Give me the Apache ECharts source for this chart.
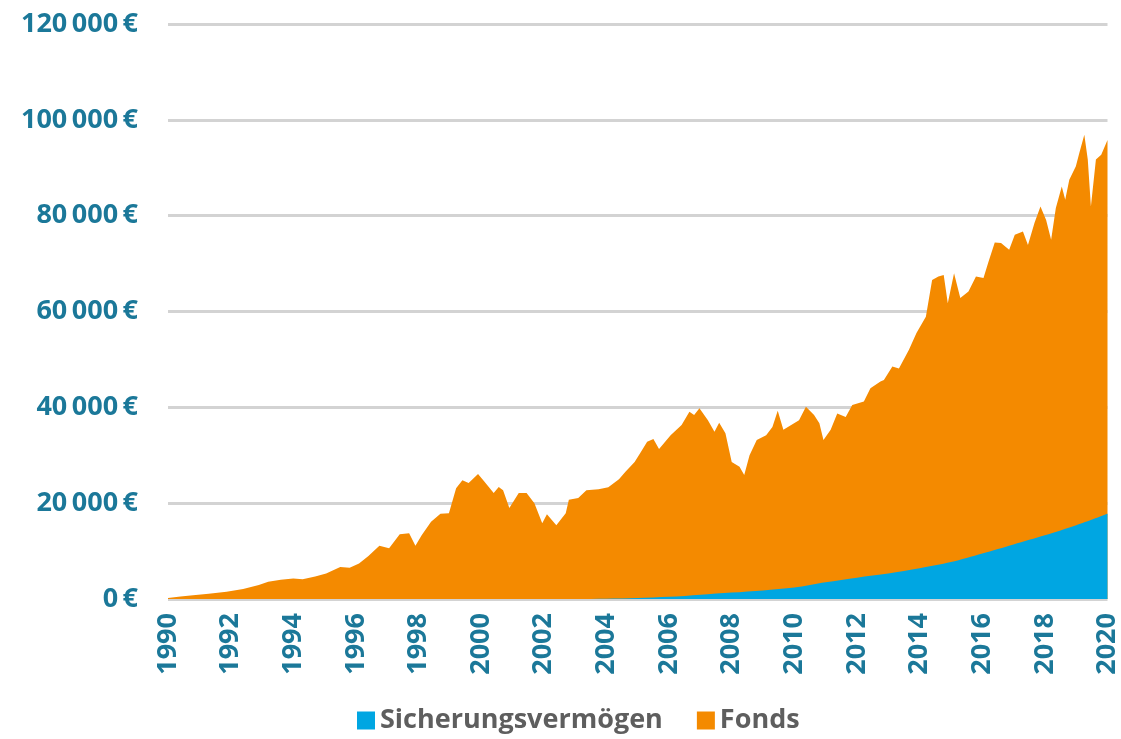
<!DOCTYPE html>
<html>
<head>
<meta charset="utf-8">
<script src="https://cdn.jsdelivr.net/npm/echarts@6/dist/echarts.min.js"></script>
<style>
  html, body { margin: 0; background: #fff; }
  #chart { width: 1121px; height: 739px; }
</style>
</head>
<body>
<div id="chart"></div>
<script>
// Gesamtwert (Oberkante der Fläche)
const totalYears = [
  1990.0, 1990.4, 1990.8, 1991.3, 1991.87, 1992.4, 1992.9, 1993.2, 1993.6, 1994.0,
  1994.3, 1994.7, 1995.05, 1995.5, 1995.8, 1996.1, 1996.4, 1996.75, 1997.06, 1997.4,
  1997.7, 1997.9, 1998.1, 1998.4, 1998.7, 1998.97, 1999.2, 1999.4, 1999.6, 1999.9,
  2000.1, 2000.4, 2000.56, 2000.7, 2000.9, 2001.2, 2001.45, 2001.7, 2001.95, 2002.1,
  2002.4, 2002.7, 2002.8, 2003.1, 2003.36, 2003.75, 2004.06, 2004.4, 2004.6, 2004.9,
  2005.1, 2005.3, 2005.5, 2005.68, 2006.05, 2006.4, 2006.65, 2006.8, 2006.97, 2007.24,
  2007.45, 2007.6, 2007.8, 2008.0, 2008.25, 2008.4, 2008.57, 2008.8, 2009.1, 2009.3,
  2009.47, 2009.65, 2009.9, 2010.15, 2010.37, 2010.63, 2010.8, 2010.93, 2011.16, 2011.37,
  2011.64, 2011.85, 2012.22, 2012.43, 2012.75, 2012.86, 2013.13, 2013.34, 2013.66, 2013.9,
  2014.2, 2014.4, 2014.6, 2014.77, 2014.9, 2015.1, 2015.3, 2015.56, 2015.8, 2016.04,
  2016.2, 2016.4, 2016.6, 2016.86, 2017.04, 2017.3, 2017.46, 2017.67, 2017.86, 2018.04,
  2018.2, 2018.35, 2018.54, 2018.65, 2018.78, 2018.99, 2019.1, 2019.26, 2019.37, 2019.47,
  2019.63, 2019.8, 2020.0
]
const totalValues = [
  200, 500, 800, 1100, 1500, 2100, 2900, 3600, 4000, 4300,
  4100, 4700, 5300, 6700, 6500, 7400, 9000, 11100, 10600, 13500,
  13700, 11100, 13300, 16100, 17800, 17900, 23100, 24800, 24200, 26100,
  24500, 22100, 23400, 22700, 19000, 22100, 22100, 20000, 15800, 17700,
  15400, 17900, 20700, 21100, 22700, 22900, 23300, 25000, 26500, 28600,
  30700, 32800, 33400, 31300, 34200, 36300, 39100, 38400, 39800, 37300,
  34900, 36800, 34600, 28600, 27600, 25900, 30000, 33200, 34200, 35900,
  39300, 35300, 36300, 37300, 40100, 38400, 36700, 33200, 35300, 38700,
  38000, 40500, 41200, 44000, 45400, 45700, 48500, 48100, 52000, 55500,
  58900, 66600, 67300, 67600, 61700, 68000, 62800, 64200, 67300, 67000,
  70400, 74400, 74300, 72900, 76000, 76700, 73900, 78500, 81900, 79100,
  75000, 81600, 86100, 83300, 87500, 90300, 93100, 96900, 91700, 81900,
  91700, 92700, 95800
]

// Sicherungsvermögen, jährlich
const safeYears = [
  1990, 1991, 1992, 1993, 1994, 1995, 1996, 1997, 1998, 1999, 2000,
  2001, 2002, 2003, 2004, 2005, 2006, 2007, 2008, 2009, 2010,
  2011, 2012, 2013, 2014, 2015, 2016, 2017, 2018, 2019, 2020
]
const safeValues = [
  0, 0, 0, 0, 0, 0, 0, 0, 0, 0, 0,
  0, 0, 0, 50, 200, 450, 900, 1350, 1800, 2400,
  3500, 4450, 5300, 6400, 7700, 9500, 11400, 13300, 15400, 17800
]

const legendNames = ['Sicherungsvermögen', 'Fonds']

const font = '"Open Sans", "DejaVu Sans", sans-serif'
const chart = echarts.init(document.getElementById('chart'))

chart.setOption({
  animation: false,
  grid: { left: 168, right: 10, top: 24, bottom: 140 },
  legend: {
    data: legendNames,
    top: 702,
    left: 352,
    icon: 'rect',
    itemWidth: 18,
    itemHeight: 18,
    itemGap: 34,
    textStyle: { color: '#5e5e5e', fontSize: 27, fontWeight: 'bold', fontFamily: font }
  },
  xAxis: {
    type: 'value',
    min: 1990,
    max: 2020,
    interval: 2,
    axisLine: { show: false },
    axisTick: { show: false },
    splitLine: { show: false },
    axisLabel: {
      rotate: 90,
      margin: 14,
      color: '#1b7899',
      fontSize: 27,
      fontWeight: 'bold',
      fontFamily: font,
      formatter: v => String(v)
    }
  },
  yAxis: {
    type: 'value',
    min: 0,
    max: 120000,
    interval: 20000,
    axisLine: { show: false },
    axisTick: { show: false },
    splitLine: { lineStyle: { color: '#d3d3d3', width: 3 } },
    axisLabel: {
      margin: 30,
      color: '#1b7899',
      fontSize: 27,
      fontWeight: 'bold',
      fontFamily: font,
      formatter: v => (v === 0 ? '0' : (v / 1000) + '\u2009000') + '\u2009€'
    }
  },
  series: [
    {
      name: 'Fonds',
      type: 'line',
      data: totalYears.map((t, i) => [t, totalValues[i]]),
      symbol: 'none',
      lineStyle: { width: 0 },
      itemStyle: { color: '#f48a00' },
      areaStyle: { color: '#f48a00', opacity: 1 },
      z: 2
    },
    {
      name: 'Sicherungsvermögen',
      type: 'line',
      smooth: 0.3,
      data: safeYears.map((t, i) => [t, safeValues[i]]),
      symbol: 'none',
      lineStyle: { width: 0 },
      itemStyle: { color: '#00a6e2' },
      areaStyle: { color: '#00a6e2', opacity: 1 },
      z: 3
    }
  ]
})
</script>
</body>
</html>
